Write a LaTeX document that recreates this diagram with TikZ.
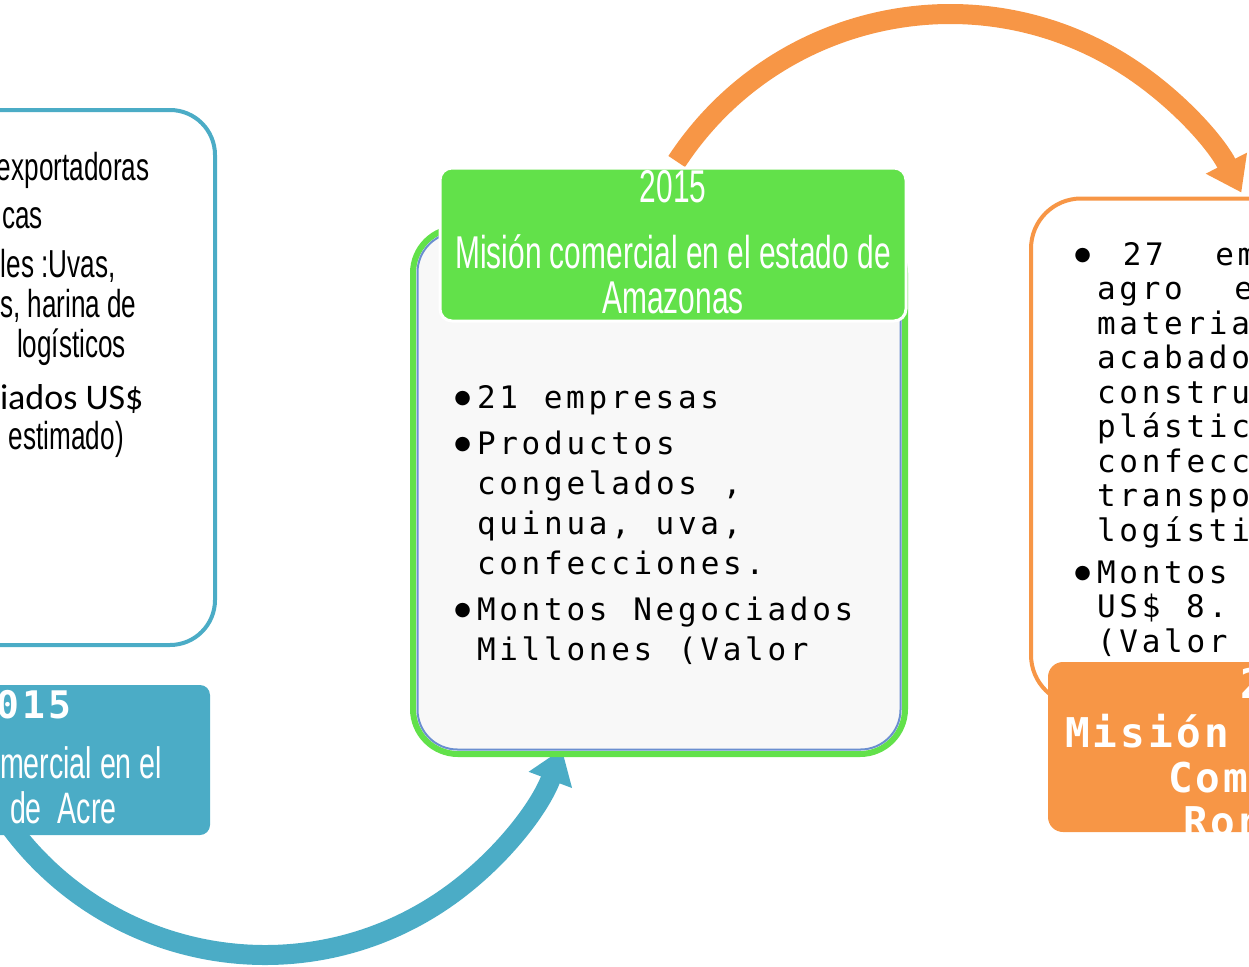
\documentclass[tikz,border=0pt]{standalone}
\usepackage{fontspec}
\usepackage{xcolor}
\usetikzlibrary{arrows.meta}
\setmainfont{Liberation Sans}
\newfontfamily\condfont[FakeStretch=0.65]{Liberation Sans}
\newfontfamily\leftfont[FakeStretch=0.67]{Liberation Sans}
\newfontfamily\bodymono[LetterSpace=12,WordSpace=1.15]{DejaVu Sans Mono}
\newfontfamily\headmono[LetterSpace=8]{DejaVu Sans Mono}
\newfontfamily\calfont{Carlito}
\newfontfamily\dotfont{DejaVu Sans}
\definecolor{acreblue}{HTML}{4BACC6}
\definecolor{amazgreen}{HTML}{62E14A}
\definecolor{rondorange}{HTML}{F79646}
\definecolor{paneshade}{HTML}{F8F8F8}
\definecolor{paneline}{HTML}{6B8FD0}
\newcommand\blt{\llap{\raisebox{0.16em}{\dotfont\fontsize{19}{19}\selectfont ●}\hspace{6pt}}}

\begin{document}
\begin{tikzpicture}[x=1pt, y=-1pt,
    every node/.style={inner sep=0pt, outer sep=0pt},
    pane/.style={draw, line width=4pt, fill=white, rounded corners=45pt},
    tab/.style={rounded corners=#1},
    flow/.style={line width=20pt, -{Triangle[length=33pt, width=44pt]}},
    condtext/.style={font=\leftfont\fontsize{39}{40}\selectfont, anchor=base west},
    condtitle/.style={font=\condfont\fontsize{44}{45}\selectfont, text=white},
    listtext/.style={font=\bodymono\fontsize{31}{#1}\selectfont, align=left, anchor=north west},
    monotitle/.style={font=\headmono\bfseries\fontsize{#1}{#1}\selectfont, text=white, anchor=base west}
  ]
  \useasboundingbox (0,0) rectangle (1249,966);
  \clip (0,0) rectangle (1249,966);

  % arrows go under the boxes
  \coordinate (acreout) at (5.3,819.8);
  \coordinate (amazout) at (676.7,161.5);
  \draw[flow, acreblue] (acreout) arc[start angle=145, end angle=20.5, radius=317];
  \draw[flow, rondorange] (amazout) arc[start angle=-146.7, end angle=-27, radius=327];

  % Acre
  \node[pane, draw=acreblue, minimum width=275pt, minimum height=535pt] (acrepane) at (77.5,377.5) {};
  \node[condtext] (acre1) at (-3,180) {exportadoras};
  \node[condtext] (acre2) at (2,228) {cas};
  \node[condtext] (acre3) at (1,277) {les :Uvas,};
  \node[condtext] (acre4) at (0,317) {s, harina de};
  \node[condtext] (acre5) at (17,357) {logísticos};
  \node[condtext, font=\calfont\fontsize{36}{40}\selectfont] (acre6) at (0,409) {iados US\$};
  \node[condtext] (acre7) at (9,449) {estimado)};
  \node[tab=10pt, fill=acreblue, minimum width=270pt, minimum height=150pt] (acretab) at (75,760) {};
  \node[monotitle=38] (acreyear) at (-29,718) {2015};
  \node[condtitle, anchor=base west] (acrename) at (0,778) {mercial en el};
  \node[condtitle, anchor=base west] (acrestate) at (10,823) {de\ \ Acre};

  % Amazonas
  \node[pane, draw=amazgreen, line width=6pt, fill=paneshade, minimum width=492pt, minimum height=526pt] (amazpane) at (659,491) {};
  \node[draw=paneline, line width=2pt, rounded corners=40pt, minimum width=483pt, minimum height=517pt] (amazbevel) at (amazpane.center) {};
  \node[tab=12pt, fill=amazgreen, draw=white, line width=3pt, minimum width=466pt, minimum height=153pt] (amaztab) at (673,244.5) {};
  \node[condtitle, font=\condfont\fontsize{46}{45}\selectfont] (amazyear) at (673,187) {2015};
  \node[condtitle, font=\condfont\fontsize{46}{45}\selectfont, align=center] (amazname) at (673,274) {Misión comercial en el estado de\\Amazonas};
  \node[listtext=40] (amazlist) at (477,385) {\blt 21 empresas\\[6pt]\blt Productos\\congelados ,\\quinua, uva,\\confecciones.\\[6pt]\blt Montos Negociados\\Millones (Valor};

  % Rondonia
  \node[pane, draw=rondorange, rounded corners=50pt, minimum width=369pt, minimum height=506.5pt] (rondpane) at (1215.5,451.75) {};
  \node[listtext=34.5] (rondlist) at (1097,242) {\blt\ 27\ \ em\\agro\ \ e\\materia\\acabado\\constru\\plástic\\confecc\\transpo\\logísti\\[7.5pt]\blt Montos\\US\$ 8.\\(Valor};
  \node[tab=15pt, fill=rondorange, minimum width=352pt, minimum height=170pt] (rondtab) at (1224,747) {};
  \begin{scope}
    \clip[rounded corners=15pt] (rondtab.north west) rectangle (rondtab.south east);
    \node[monotitle=41] (rondyear) at (1240,698) {2015};
    \node[monotitle=41] (rondname) at (1065,747) {Misión};
    \node[monotitle=41] (rondkind) at (1168,792) {Com};
    \node[monotitle=41] (rondstate) at (1183,836) {Ron};
  \end{scope}
\end{tikzpicture}
\end{document}
